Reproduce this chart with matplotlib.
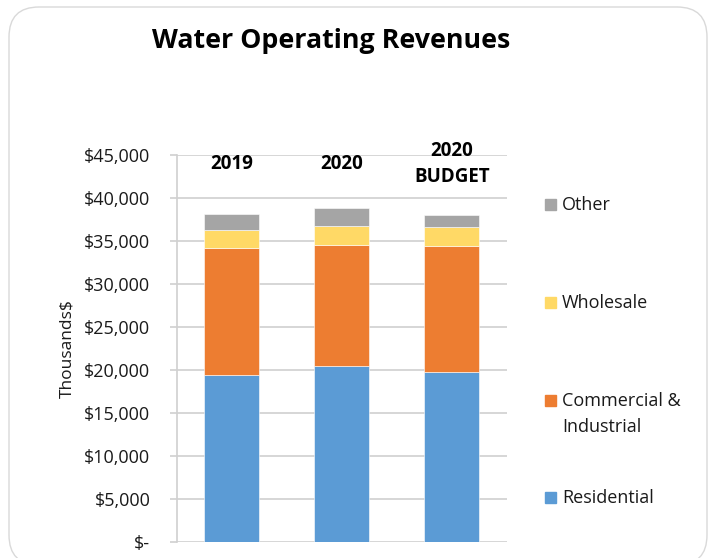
import matplotlib.pyplot as plt
from matplotlib.patches import FancyBboxPatch, Rectangle
from matplotlib.ticker import FuncFormatter
import numpy as np

plt.rcParams["font.family"] = ["Open Sans", "DejaVu Sans"]

# thousands of dollars
periods = ["2019", "2020", "2020\nBUDGET"]
series = ["Residential", "Commercial &\nIndustrial", "Wholesale", "Other"]
residential = [19400, 20450, 19750]
commercial = [14800, 14050, 14650]
wholesale = [2100, 2300, 2200]
other = [1800, 2100, 1400]
colors = ["#5B9BD5", "#ED7D31", "#FFD966", "#A5A5A5"]

W, H = 708, 558


def money(v, pos):
    if v == 0:
        return "$-"
    return "${:,.0f}".format(v)


def main():
    fig = plt.figure(figsize=(W / 100, H / 100), dpi=100)

    # pixel-space frame for the rounded border, title and legend
    frame = fig.add_axes([0, 0, 1, 1], zorder=0)
    frame.set_xlim(0, W)
    frame.set_ylim(H, 0)
    frame.axis("off")
    frame.add_patch(FancyBboxPatch((9, 7), 698, 558, boxstyle="round,pad=0,rounding_size=30",
                                   facecolor="white", edgecolor="#d9d9d9", lw=1.0))
    frame.text(331, 41, "Water Operating Revenues", ha="center", va="center",
               fontsize=19.3, fontweight="bold", color="black")

    ax = fig.add_axes([176.7 / W, 1 - 542.3 / H, (507 - 176.7) / W, (542.3 - 155) / H], zorder=1)
    ax.set_facecolor("none")

    x = np.arange(len(periods))
    bottom = np.zeros(len(periods))
    for vals, c in zip([residential, commercial, wholesale, other], colors):
        ax.bar(x, vals, width=0.5, bottom=bottom, color=c, edgecolor="white", lw=0.4, zorder=3)
        bottom += np.array(vals)

    ax.set_xlim(-0.5, 2.5)
    ax.set_ylim(0, 45000)
    ax.set_yticks(np.arange(0, 45001, 5000))
    ax.yaxis.set_major_formatter(FuncFormatter(money))
    ax.set_xticks([])
    ax.grid(axis="y", color="#d0d0d0", lw=1.2, zorder=0)
    for s in ["top", "right", "bottom"]:
        ax.spines[s].set_visible(False)
    ax.spines["left"].set_color("#d0d0d0")
    ax.spines["left"].set_linewidth(1.2)
    ax.tick_params(axis="y", length=5, color="#d0d0d0", width=1.2, pad=14,
                   labelsize=13, labelcolor="#1a1a1a")
    ax.set_ylabel("Thousands$", fontsize=12.5, color="#1a1a1a", labelpad=6)

    for i, p in enumerate(periods):
        ax.text(i, 0.978, p, transform=ax.get_xaxis_transform(), ha="center", va="center",
                fontsize=13.5, fontweight="bold", linespacing=1.4)

    # legend, top entry first
    ys = [497, 400, 302, 204]
    for name, c, y in zip(series, colors, ys):
        frame.add_patch(Rectangle((545, y - 5.5), 11, 11, color=c))
        frame.text(562, y - 8, name, ha="left", va="top", fontsize=13,
                   color="#1a1a1a", linespacing=1.55)

    fig.savefig("out.png", dpi=100)


if __name__ == "__main__":
    main()
